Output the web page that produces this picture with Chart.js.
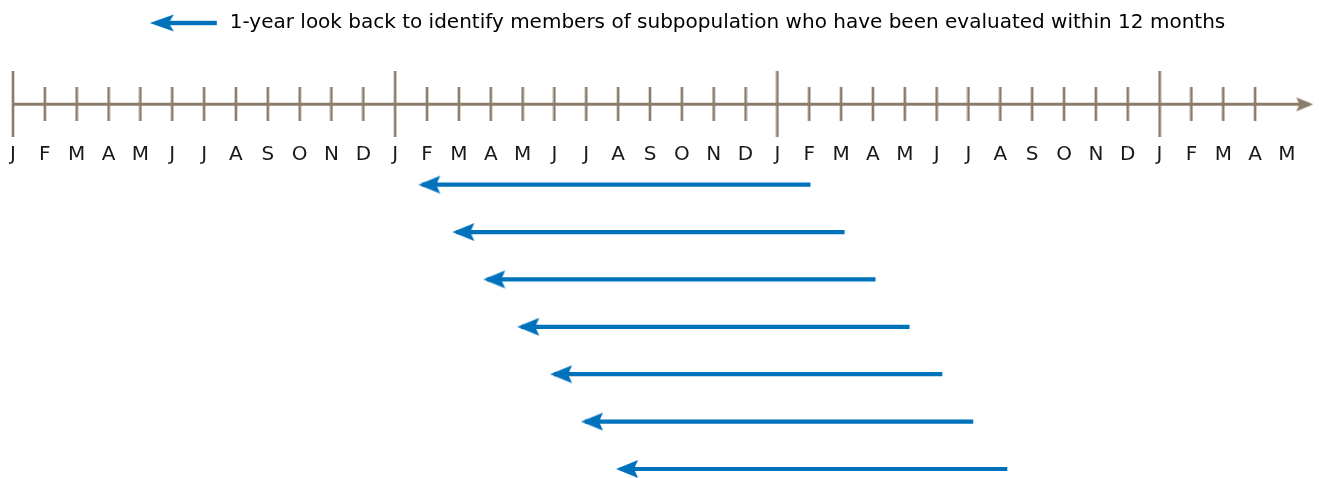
<!DOCTYPE html>
<html lang="en">
  <head>
    <meta charset="UTF-8" />
    <meta name="viewport" content="width=device-width, initial-scale=1.0" />
    <title>Look-back timeline</title>
    <script src="https://cdn.jsdelivr.net/npm/chart.js"></script>
    <style>
      html,
      body {
        margin: 0;
        padding: 0;
        background: #ffffff;
      }
      #chartBox {
        width: 1319px;
        height: 478px;
        position: relative;
      }
    </style>
  </head>
  <body>
    <div id="chartBox"><canvas id="timelineChart"></canvas></div>

    <script>
      // month letters along the axis (Jan of year 1 ... May of year 4)
      var monthLabels = "J F M A M J J A S O N D J F M A M J J A S O N D J F M A M J J A S O N D J F M A M".split(" ");
      // every month but the last one gets a tick mark
      var tickMonths = monthLabels.slice(0, 40).map(function (_, i) { return i; });
      // January ticks are the tall ones
      var majorMonths = [0, 12, 24, 36];
      // where the axis arrow ends (month index)
      var timelineEnd = 40.7;

      // look-back arrows: start (right end) and end (arrow tip), in months
      var lookbackFrom = [25.04, 26.11, 27.08, 28.15, 29.18, 30.15, 31.22];
      var lookbackTo = [12.85, 13.92, 14.89, 15.96, 16.99, 17.96, 19.06];

      var legendText =
        "1-year look back to identify members of subpopulation who have been evaluated within 12 months";

      var blue = "#0072bc";
      var brown = "#8b7c6a";
      var fontFamily = "'DejaVu Sans', sans-serif";

      // row layout (y units)
      var timelineRow = -0.695;

      // arrowhead drawn on a small canvas, used as a pointStyle
      function makeHead(color, width, tipX, len, half, notch, dir) {
        var c = document.createElement("canvas");
        c.width = width;
        c.height = half * 2 + 2;
        var g = c.getContext("2d");
        var cy = c.height / 2;
        g.fillStyle = color;
        g.beginPath();
        g.moveTo(tipX, cy);
        g.lineTo(tipX + dir * len, cy - half);
        g.lineTo(tipX + dir * notch, cy);
        g.lineTo(tipX + dir * len, cy + half);
        g.closePath();
        g.fill();
        return c;
      }

      // vertical tick mark as an image (keeps chart padding small)
      function makeTick(height) {
        var c = document.createElement("canvas");
        c.width = 4;
        c.height = height;
        var g = c.getContext("2d");
        g.fillStyle = brown;
        g.fillRect(0.7, 0, 2.6, height);
        return c;
      }

      var blueHead = makeHead(blue, 52, 22, 22, 9, 18, 1);
      var brownHead = makeHead(brown, 40, 24, 17, 7, 14, -1);
      var majorTick = makeTick(66);
      var minorTick = makeTick(34);

      // legend box width so the text starts where it does in the figure
      var m = document.createElement("canvas").getContext("2d");
      m.font = "20px " + fontFamily;
      var textW = m.measureText(legendText).width;
      var legendBoxW = Math.max(80, Math.round(textW - 869));

      // legend icon: a short blue arrow at the right of the box
      function makeLegendIcon(w) {
        var c = document.createElement("canvas");
        c.width = w;
        c.height = 20;
        var g = c.getContext("2d");
        var tip = w - 70;
        g.fillStyle = blue;
        g.fillRect(tip + 18, 10 - 2.2, w - 3 - (tip + 18), 4.4);
        g.beginPath();
        g.moveTo(tip, 10);
        g.lineTo(tip + 24, 10 - 8.5);
        g.lineTo(tip + 19, 10);
        g.lineTo(tip + 24, 10 + 8.5);
        g.closePath();
        g.fill();
        return c;
      }
      var legendIcon = makeLegendIcon(legendBoxW);

      var datasets = [];

      // horizontal time axis with its arrow
      datasets.push({
        data: [
          { x: 0, y: timelineRow },
          { x: timelineEnd, y: timelineRow },
        ],
        borderColor: brown,
        borderWidth: 3,
        pointRadius: [0, 1],
        pointStyle: brownHead,
        pointBorderWidth: 0,
        clip: false,
      });

      // month tick marks
      datasets.push({
        data: tickMonths.map(function (mo) {
          return { x: mo, y: timelineRow };
        }),
        showLine: false,
        pointRadius: 1,
        pointBorderWidth: 0,
        pointStyle: function (c) {
          return majorMonths.indexOf(c.raw.x) >= 0 ? majorTick : minorTick;
        },
        clip: false,
      });

      // look-back arrows
      lookbackFrom.forEach(function (from, k) {
        datasets.push({
          data: [
            { x: from, y: k + 1 },
            { x: lookbackTo[k], y: k + 1 },
          ],
          borderColor: blue,
          borderWidth: 4.2,
          pointRadius: [0, 1],
          pointStyle: blueHead,
          pointBorderWidth: 0,
          clip: false,
        });
      });

      var ctx = document.getElementById("timelineChart").getContext("2d");
      var timelineChart = new Chart(ctx, {
        type: "line",
        data: { datasets: datasets },
        options: {
          responsive: true,
          maintainAspectRatio: false,
          animation: false,
          layout: { padding: { left: 3, right: 3, top: 0, bottom: 3 } },
          plugins: {
            tooltip: { enabled: false },
            legend: {
              display: true,
              position: "top",
              align: "center",
              labels: {
                usePointStyle: true,
                pointStyleWidth: legendBoxW,
                padding: 13,
                color: "#1a1a1a",
                font: { family: fontFamily, size: 20 },
                generateLabels: function () {
                  return [
                    {
                      text: legendText,
                      pointStyle: legendIcon,
                      fillStyle: blue,
                      strokeStyle: blue,
                      lineWidth: 0,
                      hidden: false,
                      datasetIndex: 2,
                    },
                  ];
                },
              },
            },
          },
          scales: {
            x: {
              type: "linear",
              min: -0.282,
              max: 40.88,
              position: { y: timelineRow },
              // invisible tick marks only push the labels down
              grid: {
                display: true,
                drawOnChartArea: false,
                drawTicks: true,
                tickLength: 38,
                tickColor: "rgba(0,0,0,0)",
              },
              border: { display: false },
              afterBuildTicks: function (axis) {
                axis.ticks = monthLabels.map(function (_, i) {
                  return { value: i };
                });
              },
              ticks: {
                autoSkip: false,
                maxRotation: 0,
                padding: 0,
                color: "#1a1a1a",
                font: { family: fontFamily, size: 20 },
                callback: function (v) {
                  return monthLabels[v];
                },
              },
            },
            y: {
              type: "linear",
              display: false,
              reverse: true,
              min: -1.989,
              max: 7.106,
            },
          },
        },
      });
    </script>
  </body>
</html>
